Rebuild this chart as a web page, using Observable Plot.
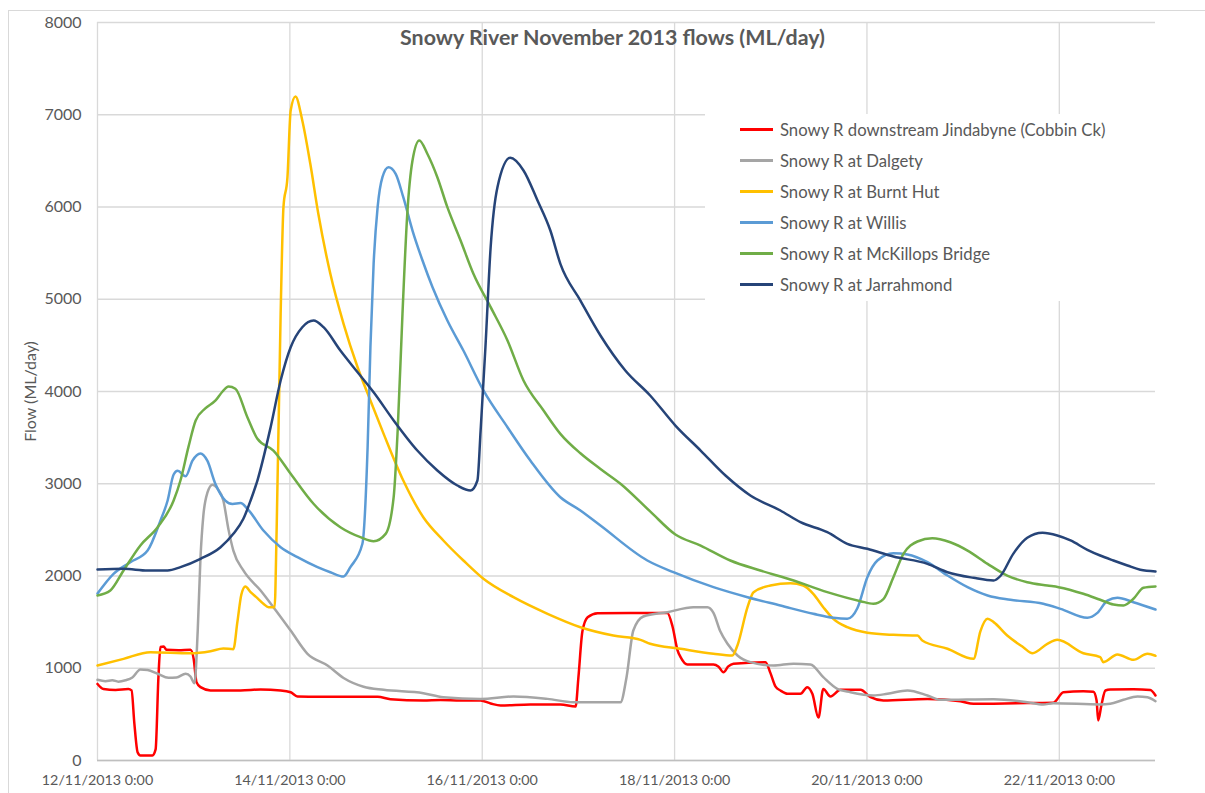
<!DOCTYPE html>
<html>
<head>
<meta charset="utf-8">
<script src="https://cdn.jsdelivr.net/npm/d3@7"></script>
<script src="https://cdn.jsdelivr.net/npm/@observablehq/plot@0.6"></script>
<style>
  body { margin: 0; background: #fff; }
  #wrap { position: relative; width: 1205px; height: 793px; overflow: hidden; font-family: Lato, sans-serif; }
  #border { position: absolute; left: 8px; top: 10px; width: 1300px; height: 900px; border-left: 1px solid #d9d9d9; border-top: 1px solid #d9d9d9; }
  #chart { position: absolute; left: 0; top: 0; }
  #legend { position: absolute; left: 705px; top: 114px; width: 450px; height: 187px; background: #fff; }
  .row { height: 31px; display: flex; align-items: center; }
  .sw { width: 33px; height: 3px; margin-left: 35px; margin-right: 7px; }
  .lab { font-size: 16.7px; color: #595959; white-space: nowrap; }
</style>
</head>
<body>
<div id="wrap">
  <div id="border"></div>
  <div id="chart"></div>
  <div id="legend"></div>
</div>
<script>
// Time is in hours after 12/11/2013 0:00; values in ML/day
const titleText = "Snowy River November 2013 flows (ML/day)";
const yLabel = "Flow (ML/day)";
const tickHours = [0, 48, 96, 144, 192, 240];
const tickLabels = ["12/11/2013 0:00", "14/11/2013 0:00", "16/11/2013 0:00", "18/11/2013 0:00", "20/11/2013 0:00", "22/11/2013 0:00"];
const yTicks = [0, 1000, 2000, 3000, 4000, 5000, 6000, 7000, 8000];

const seriesNames = [
  "Snowy R downstream Jindabyne (Cobbin Ck)",
  "Snowy R at Dalgety",
  "Snowy R at Burnt Hut",
  "Snowy R at Willis",
  "Snowy R at McKillops Bridge",
  "Snowy R at Jarrahmond"
];
const seriesColors = ["#ff0000", "#a5a5a5", "#ffc000", "#5b9bd5", "#70ad47", "#264478"];

const jindabyne = [[0,830],[1.5,775],[4.5,765],[7.7,775],[8.5,760],[9.2,400],[10,90],[10.7,55],[13.7,55],[14.5,120],[15.2,900],[15.7,1230],[16.5,1235],[17.2,1200],[20.2,1195],[23.2,1200],[24,1100],[24.7,850],[25.7,795],[28.2,760],[35.7,760],[40.7,770],[45.7,760],[48.2,740],[49.9,694],[55.6,690],[63.1,692],[69.9,690],[73.1,665],[81.3,650],[85.6,655],[90.6,650],[95.6,650],[98.1,618],[100.6,596],[108,607],[115.5,607],[119.3,585],[120,900],[121,1400],[122.3,1553],[124.8,1597],[133,1600],[142.2,1600],[143.5,1450],[144.7,1200],[145.5,1120],[147.2,1040],[153.7,1040],[154.9,1020],[156.2,957],[157.4,1020],[158.7,1050],[166.7,1066],[167.9,950],[169.2,800],[170.4,759],[172.2,723],[175.4,723],[177.1,795],[178.4,720],[179.9,465],[181.1,775],[182.9,694],[185.4,766],[190.4,766],[192.9,686],[196.1,650],[207.1,668],[215.3,643],[218.6,614],[223.6,616],[232,622],[238.5,625],[239,640],[241,740],[246,751],[248.5,745],[249.3,650],[249.7,434],[250.5,600],[251.5,759],[252.7,770],[258.5,773],[262.7,765],[264,705]];

const dalgety = [[0,875],[2,860],[3.7,870],[5.2,855],[7,870],[8.7,900],[10.7,986],[12.5,980],[15,940],[17.7,896],[19.7,900],[22,940],[23.2,910],[24.2,838],[25,1400],[25.7,2200],[26.4,2650],[27.4,2900],[28.7,2990],[29.9,2950],[31.4,2818],[32.7,2500],[33.9,2276],[36.4,2060],[40.7,1843],[43.9,1662],[48.2,1409],[52.4,1157],[57.4,1030],[61.4,895],[66.4,800],[71.4,766],[81.3,730],[86.3,686],[95.6,668],[103.8,694],[112.3,668],[118.8,632],[130.5,632],[132,900],[133.7,1409],[136.2,1561],[142.2,1608],[148.7,1662],[152.2,1662],[153.7,1600],[155.4,1400],[157.2,1265],[159.7,1138],[162.9,1066],[168.7,1030],[173.7,1050],[177.9,1041],[181.1,903],[184.6,777],[187.9,740],[193.6,705],[197.1,723],[202.1,759],[207.1,705],[210.3,658],[223.6,665],[232,632],[236,607],[238.5,621],[250.2,607],[252.7,615],[256,658],[259.5,694],[262,685],[264,643]];

const burntHut = [[0,1030],[6.5,1102],[13.2,1174],[23.2,1163],[28.2,1185],[31.4,1214],[33.9,1207],[34.9,1500],[35.9,1800],[36.9,1886],[38.2,1825],[39.9,1760],[41.4,1699],[42.7,1662],[44.2,1662],[44.7,2500],[45.7,4845],[46.4,5998],[47.4,6323],[48.2,7046],[49.4,7198],[51.1,6938],[53.1,6468],[55.1,5926],[58.1,5276],[61.4,4734],[64.9,4263],[68.1,3902],[71.4,3541],[76.3,3035],[81.3,2637],[86.3,2385],[91.3,2168],[96.3,1970],[103.8,1770],[112.3,1590],[120.5,1445],[128.7,1355],[135.5,1308],[137.9,1265],[145.5,1211],[153.7,1157],[158.4,1138],[159.7,1250],[162.2,1662],[163.7,1825],[167.9,1897],[172.9,1922],[176.1,1897],[178.6,1807],[181.1,1662],[183.6,1536],[187.1,1445],[192.1,1385],[198.6,1362],[204.6,1355],[205.8,1301],[212.1,1211],[218.6,1102],[220.3,1400],[222.1,1536],[223.6,1500],[227,1355],[231,1228],[233.3,1163],[237,1265],[239.5,1308],[246,1163],[250.2,1120],[251,1066],[254.5,1149],[258.5,1091],[262,1157],[264,1135]];

const willis = [[0,1810],[4,2024],[8.2,2150],[12.5,2276],[15.7,2600],[17.5,2818],[19,3100],[20,3140],[22,3080],[23.7,3250],[25.7,3328],[27.4,3250],[29.4,3000],[31.9,2818],[33.7,2780],[35.7,2790],[37.4,2729],[41.4,2493],[45.7,2312],[49.9,2204],[54.9,2096],[58.1,2041],[61.4,1994],[63.1,2096],[66.1,2349],[67.4,3396],[68.1,4480],[68.9,5384],[69.9,5998],[71.1,6323],[72.6,6431],[74.4,6359],[76.3,6106],[78.6,5745],[81.1,5420],[83.6,5131],[87.3,4770],[91.3,4444],[96.3,4011],[102.3,3613],[108,3252],[115.5,2854],[120.5,2710],[125.5,2547],[137.2,2168],[143.7,2041],[153.7,1879],[162.2,1770],[170.4,1680],[178.6,1590],[183.6,1547],[187.1,1536],[189.6,1650],[192.1,1987],[194.6,2168],[198.6,2247],[202.1,2233],[207.1,2150],[212.1,2005],[217.1,1879],[222.1,1789],[227.8,1742],[236,1699],[240.3,1644],[247,1547],[249.5,1600],[252,1734],[254.5,1764],[258.5,1716],[264,1637]];

const mckillops = [[0,1789],[3.2,1843],[6.5,2060],[10.7,2331],[15,2529],[19,2818],[20.7,3035],[22.7,3400],[24.5,3686],[26.9,3816],[29.4,3900],[31.2,4000],[32.7,4054],[34.4,4030],[37.4,3721],[39.9,3487],[43.9,3360],[48.2,3108],[53.9,2783],[60.6,2529],[65.6,2421],[68.9,2377],[71.9,2457],[73.9,2854],[74.9,3577],[76.1,4842],[77.3,5926],[78.6,6504],[80.3,6721],[82.3,6577],[84.8,6323],[87.3,5998],[90.6,5637],[93.8,5276],[98.1,4914],[102.3,4553],[106.3,4119],[111.3,3794],[115.5,3541],[120.5,3330],[125.5,3160],[130.5,3000],[137.9,2700],[144.2,2450],[150.5,2330],[157.9,2168],[165.4,2060],[173.7,1951],[182.1,1825],[190.4,1727],[193.6,1699],[196.1,1750],[198.6,1987],[201.1,2240],[204.6,2374],[208.3,2410],[212.8,2366],[217.1,2276],[222.1,2132],[227,2005],[232,1933],[237,1897],[239.8,1879],[246,1807],[250.2,1742],[253.5,1691],[256,1680],[258.5,1753],[261,1872],[264,1886]];

const jarrahmond = [[0,2070],[6.5,2078],[12.5,2060],[17.5,2060],[20.7,2096],[25.7,2186],[30.7,2312],[33.9,2457],[36.4,2620],[38.2,2818],[39.9,3035],[43.2,3613],[45.7,4119],[48.2,4480],[51.1,4697],[53.9,4770],[56.4,4697],[60.6,4444],[64.9,4209],[68.9,3992],[73.9,3686],[79.8,3360],[84.8,3144],[89.8,2981],[93.1,2927],[94.8,3035],[95.6,3577],[96.8,4480],[98.1,5564],[99.8,6215],[103,6533],[106.3,6396],[109.8,6070],[113,5745],[115.5,5384],[120.5,4986],[125.5,4607],[131.7,4228],[137.9,3957],[144.2,3631],[150.5,3360],[156.7,3089],[162.9,2873],[170.4,2710],[175.4,2583],[182.1,2475],[187.1,2349],[192.1,2295],[198.6,2211],[207.1,2132],[212.1,2041],[218.6,1980],[223.6,1951],[225.3,2000],[228.5,2240],[232,2414],[235.8,2468],[239.5,2439],[242.8,2385],[247,2284],[250.2,2222],[253.5,2168],[257,2114],[260.2,2067],[264,2049]];

const seriesData = [jindabyne, dalgety, burntHut, willis, mckillops, jarrahmond];

const lineMarks = seriesData.map((s, i) =>
  Plot.line(s, {x: d => d[0], y: d => d[1], stroke: seriesColors[i], strokeWidth: 2.5, curve: "monotone-x", strokeLinejoin: "round"})
);

const chart = Plot.plot({
  width: 1205,
  height: 793,
  marginLeft: 97,
  marginRight: 50,
  marginTop: 22,
  marginBottom: 33,
  style: {fontFamily: "Lato, sans-serif", color: "#595959", background: "transparent", overflow: "visible"},
  x: {type: "linear", domain: [0, 264]},
  y: {domain: [0, 8000]},
  marks: [
    Plot.gridY(yTicks, {stroke: "#d9d9d9", strokeOpacity: 1, strokeWidth: 1.3}),
    Plot.gridX(tickHours, {stroke: "#d9d9d9", strokeOpacity: 1, strokeWidth: 1.3}),
    Plot.ruleY([0], {stroke: "#bfbfbf", strokeWidth: 1.5}),
    Plot.axisY(yTicks, {tickSize: 0, tickPadding: 16, fontSize: 16, tickFormat: d => String(d), label: yLabel, labelAnchor: "center", labelOffset: 73, labelArrow: "none"}),
    Plot.axisX(tickHours, {tickSize: 0, tickPadding: 14, fontSize: 14.3, label: null, tickFormat: d => tickLabels[tickHours.indexOf(d)]}),
    ...lineMarks,
    Plot.text([titleText], {text: d => d, frameAnchor: "top", dx: -14, dy: 16, fontSize: 21.4, fontWeight: "bold", fill: "#595959", lineAnchor: "middle"})
  ]
});
document.getElementById("chart").appendChild(chart);

const legend = document.getElementById("legend");
seriesNames.forEach((n, i) => {
  const row = document.createElement("div");
  row.className = "row";
  const sw = document.createElement("div");
  sw.className = "sw";
  sw.style.background = seriesColors[i];
  const lab = document.createElement("div");
  lab.className = "lab";
  lab.textContent = n;
  row.appendChild(sw);
  row.appendChild(lab);
  legend.appendChild(row);
});
</script>
</body>
</html>
